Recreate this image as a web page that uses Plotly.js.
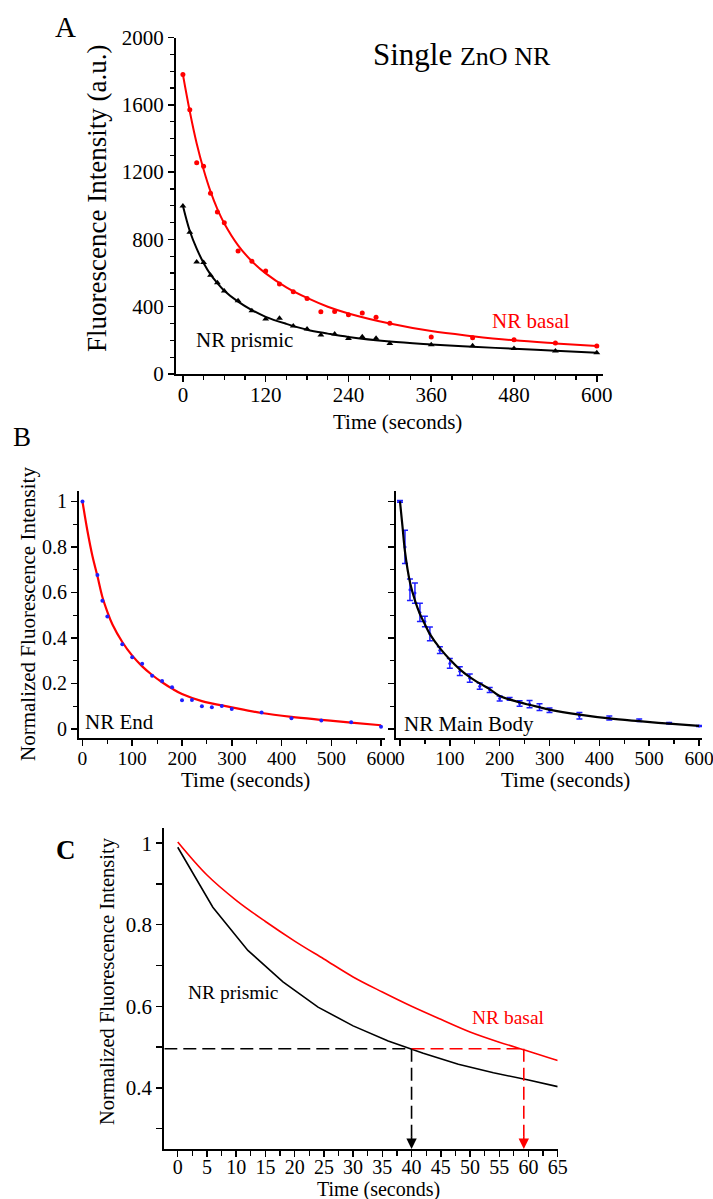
<!DOCTYPE html>
<html>
<head>
<meta charset="utf-8">
<script src="https://cdn.plot.ly/plotly-3.0.1.min.js"></script>
<style>html,body{margin:0;padding:0;background:#fff;}#chart{width:713px;height:1199px;}</style>
</head>
<body>
<div id="chart"></div>
<script>
// ---------- Panel A data (raw intensity) ----------
const A_t = [0,10,20,30,40,50,60,80,100,120,140,160,180,200,220,240,260,280,300,360,420,480,540,600];
const A_basal = [1780,1570,1255,1235,1075,963,899,731,670,612,535,489,448,370,372,352,362,337,301,220,216,204,184,166];
const A_prismic = [998,842,665,662,587,543,493,436,376,327,331,285,267,232,238,211,222,212,182,174,168,152,137,127];
const A_fit_t = [0,10,20,30,40,50,60,80,100,120,150,180,210,240,300,360,420,480,540,600];
const A_fit_basal = [1780,1560,1370,1215,1085,980,895,765,670,598,515,452,400,360,300,255,225,200,182,166];
const A_fit_prismic = [1000,850,745,660,592,540,495,430,380,340,298,263,240,220,193,176,162,150,138,127];

// ---------- Panel B data (normalized) ----------
const B_end_t = [0,30,40,50,80,100,120,140,160,180,200,220,240,260,280,300,360,420,480,540,600];
const B_end = [1.0,0.677,0.563,0.494,0.372,0.315,0.287,0.234,0.211,0.183,0.126,0.127,0.100,0.095,0.101,0.088,0.072,0.047,0.037,0.029,0.010];
const B_fit_end_t = [0,10,20,30,40,50,60,80,100,120,140,160,180,200,240,300,360,420,480,540,600];
const B_fit_end = [1.0,0.87,0.76,0.672,0.58,0.515,0.46,0.382,0.322,0.275,0.237,0.205,0.177,0.153,0.122,0.095,0.07,0.053,0.04,0.028,0.016];

const B_body_t = [0,10,20,30,40,50,60,80,100,120,140,160,180,200,220,240,260,280,300,360,420,480,540,600];
const B_body = [1.0,0.80,0.612,0.597,0.512,0.472,0.418,0.346,0.288,0.254,0.223,0.188,0.171,0.134,0.132,0.112,0.109,0.096,0.082,0.058,0.048,0.038,0.025,0.013];
const B_body_err = [0.004,0.073,0.047,0.045,0.04,0.023,0.03,0.015,0.021,0.019,0.018,0.014,0.011,0.011,0.006,0.012,0.016,0.015,0.01,0.014,0.009,0.005,0.003,0.002];
const B_fit_body_t = [0,5,10,20,30,40,50,60,80,100,120,140,160,180,200,240,280,300,360,420,480,540,600];
const B_fit_body = [1.0,0.89,0.78,0.645,0.565,0.505,0.46,0.417,0.355,0.305,0.262,0.228,0.2,0.175,0.145,0.117,0.095,0.085,0.063,0.046,0.034,0.023,0.013];

// ---------- Panel C data (first 65 s) ----------
const C_t_prismic = [0,6,12,18,24,30,36,42,48,54,60,65];
const C_prismic = [0.99,0.843,0.737,0.66,0.598,0.552,0.515,0.485,0.458,0.437,0.419,0.403];
const C_t_basal = [0,5,10,15,20,25,30,35,40,45,50,55,60,65];
const C_basal = [1.003,0.922,0.86,0.808,0.76,0.716,0.672,0.635,0.600,0.568,0.537,0.512,0.49,0.467];
const C_half_level = 0.496;
const C_half_t = [40, 59.2];   // prismic, basal half-times
const C_ymin = 0.25;

// ---------- layout helpers ----------
const W = 713, H = 1199;
const px = v => v / W;
const py = v => 1 - v / H;
const FONT = 'Liberation Serif, Times New Roman, serif';
const RED = '#ff0000', BLUE = '#1f1fff';

function axisBase(extra) {
  return Object.assign({
    showline: true, linecolor: '#000', linewidth: 2, mirror: false,
    showgrid: false, zeroline: false, ticks: 'outside', ticklen: 6, tickwidth: 1.5,
    tickcolor: '#000', automargin: false,
    tickfont: {family: FONT, size: 20, color: '#000'}
  }, extra);
}
const minorTicks = (d, len) => ({dtick: d, ticklen: len, tickcolor: '#000', ticks: 'outside', tickwidth: 1.2});

const traces = [
  // Panel A
  {x: A_fit_t, y: A_fit_basal, mode: 'lines', line: {color: RED, width: 2, shape: 'spline'}, xaxis: 'x', yaxis: 'y'},
  {x: A_fit_t, y: A_fit_prismic, mode: 'lines', line: {color: '#000', width: 2, shape: 'spline'}, xaxis: 'x', yaxis: 'y'},
  {x: A_t, y: A_basal, mode: 'markers', marker: {color: RED, size: 5, symbol: 'circle'}, xaxis: 'x', yaxis: 'y'},
  {x: A_t, y: A_prismic, mode: 'markers', marker: {color: '#000', size: 6, symbol: 'triangle-up'}, xaxis: 'x', yaxis: 'y'},
  // Panel B left
  {x: B_fit_end_t, y: B_fit_end, mode: 'lines', line: {color: RED, width: 2.2, shape: 'spline'}, xaxis: 'x2', yaxis: 'y2'},
  {x: B_end_t, y: B_end, mode: 'markers', marker: {color: BLUE, size: 4}, xaxis: 'x2', yaxis: 'y2'},
  // Panel B right
  {x: B_body_t, y: B_body, mode: 'markers', marker: {color: BLUE, size: 3},
   error_y: {type: 'data', array: B_body_err, visible: true, color: BLUE, thickness: 1.5, width: 3},
   xaxis: 'x3', yaxis: 'y3'},
  {x: B_fit_body_t, y: B_fit_body, mode: 'lines', line: {color: '#000', width: 2.2, shape: 'spline'}, xaxis: 'x3', yaxis: 'y3'},
  // Panel C
  {x: C_t_basal, y: C_basal, mode: 'lines', line: {color: RED, width: 1.6, shape: 'spline'}, xaxis: 'x4', yaxis: 'y4'},
  {x: C_t_prismic, y: C_prismic, mode: 'lines', line: {color: '#000', width: 1.6}, xaxis: 'x4', yaxis: 'y4'},
  // half-life guide lines
  {x: [-2.3, C_half_t[0]], y: [C_half_level, C_half_level], mode: 'lines', line: {color: '#000', width: 1.6, dash: '13px,6px'}, xaxis: 'x4', yaxis: 'y4'},
  {x: [C_half_t[0], C_half_t[1]], y: [C_half_level, C_half_level], mode: 'lines', line: {color: RED, width: 1.6, dash: '13px,6px'}, xaxis: 'x4', yaxis: 'y4'},
  {x: [C_half_t[0], C_half_t[0]], y: [C_half_level, C_ymin + 0.03], mode: 'lines', line: {color: '#000', width: 1.6, dash: '13px,6px'}, xaxis: 'x4', yaxis: 'y4'},
  {x: [C_half_t[1], C_half_t[1]], y: [C_half_level, C_ymin + 0.03], mode: 'lines', line: {color: RED, width: 1.6, dash: '13px,6px'}, xaxis: 'x4', yaxis: 'y4'}
];

const layout = {
  width: W, height: H, showlegend: false,
  paper_bgcolor: '#fff', plot_bgcolor: '#fff',
  margin: {l: 0, r: 0, t: 0, b: 0},
  font: {family: FONT, color: '#000'},
  // Panel A
  xaxis: axisBase({domain: [px(176), px(603)], range: [-10, 609], dtick: 120, tick0: 0,
    minor: minorTicks(30, 4), ticklabelstandoff: -5,
    tickfont: {family: FONT, size: 21, color: '#000'}, anchor: 'y'}),
  yaxis: axisBase({domain: [py(374), py(37.5)], range: [0, 2000], dtick: 400, tick0: 0,
    minor: minorTicks(100, 4),
    tickfont: {family: FONT, size: 21, color: '#000'}, anchor: 'x'}),
  // Panel B left
  xaxis2: axisBase({domain: [px(79), px(385)], range: [-7, 608], dtick: 100, tick0: 0,
    minor: minorTicks(50, 4), ticklabelstandoff: -4, anchor: 'y2',
    tickfont: {family: FONT, size: 19.5, color: '#000'}}),
  yaxis2: axisBase({domain: [py(738), py(491)], range: [-0.04, 1.046], dtick: 0.2, tick0: 0,
    minor: minorTicks(0.1, 4), anchor: 'x2'}),
  // Panel B right
  xaxis3: axisBase({domain: [px(395.7), px(702)], range: [-8.6, 606], dtick: 100, tick0: 0,
    minor: minorTicks(50, 4), ticklabelstandoff: -4, ticklabeloverflow: 'allow', anchor: 'y3',
    tickfont: {family: FONT, size: 19.5, color: '#000'}}),
  yaxis3: axisBase({domain: [py(738), py(491)], range: [-0.04, 1.046], dtick: 0.2, tick0: 0, showticklabels: false,
    minor: minorTicks(0.1, 4), anchor: 'x3'}),
  // Panel C
  xaxis4: axisBase({domain: [px(164.3), px(557.7)], range: [-2.3, 65], dtick: 5, tick0: 0,
    minor: minorTicks(2.5, 5), ticklabelstandoff: -7,
    tickfont: {family: FONT, size: 20, color: '#000'}, anchor: 'y4'}),
  yaxis4: axisBase({domain: [py(1149), py(827.7)], range: [C_ymin, 1.038], dtick: 0.2, tick0: 0,
    minor: minorTicks(0.1, 6),
    tickfont: {family: FONT, size: 21, color: '#000'}, anchor: 'x4'}),
  annotations: [
    // panel letters
    {text: 'A', x: px(65), y: py(27), xref: 'paper', yref: 'paper', showarrow: false, font: {size: 29}, xanchor: 'center', yanchor: 'middle'},
    {text: 'B', x: px(22), y: py(437), xref: 'paper', yref: 'paper', showarrow: false, font: {size: 27}, xanchor: 'center', yanchor: 'middle'},
    {text: '<b>C</b>', x: px(66), y: py(850), xref: 'paper', yref: 'paper', showarrow: false, font: {size: 27}, xanchor: 'center', yanchor: 'middle'},
    // Panel A texts
    {text: 'Single <span style="font-size:26px">ZnO NR</span>', x: px(371), y: py(55), xref: 'paper', yref: 'paper', showarrow: false, font: {size: 31}, xanchor: 'left', yanchor: 'middle'},
    {text: 'Fluorescence Intensity (a.u.)', x: px(97), y: py(199), xref: 'paper', yref: 'paper', showarrow: false, textangle: -90, font: {size: 27}, xanchor: 'center', yanchor: 'middle'},
    {text: 'Time (seconds)', x: px(397), y: py(422), xref: 'paper', yref: 'paper', showarrow: false, font: {size: 21}, xanchor: 'center', yanchor: 'middle'},
    {text: 'NR prismic', x: 90, y: 202, xref: 'x', yref: 'y', showarrow: false, font: {size: 21, color: '#000'}},
    {text: 'NR basal', x: 504, y: 316, xref: 'x', yref: 'y', showarrow: false, font: {size: 21, color: RED}},
    // Panel B texts
    {text: 'Normalized Fluorescence Intensity', x: px(28), y: py(614), xref: 'paper', yref: 'paper', showarrow: false, textangle: -90, font: {size: 21}, xanchor: 'center', yanchor: 'middle'},
    {text: 'Time (seconds)', x: px(245), y: py(780), xref: 'paper', yref: 'paper', showarrow: false, font: {size: 21}, xanchor: 'center', yanchor: 'middle'},
    {text: 'Time (seconds)', x: px(565), y: py(780), xref: 'paper', yref: 'paper', showarrow: false, font: {size: 21}, xanchor: 'center', yanchor: 'middle'},
    {text: 'NR End', x: 0.5, y: 0.031, xref: 'x2', yref: 'y2', showarrow: false, font: {size: 21}, xanchor: 'left', yanchor: 'middle'},
    {text: 'NR Main Body', x: 3.4, y: 0.02, xref: 'x3', yref: 'y3', showarrow: false, font: {size: 21}, xanchor: 'left', yanchor: 'middle'},
    // Panel C texts
    {text: 'Normalized Fluorescence Intensity', x: px(107), y: py(981), xref: 'paper', yref: 'paper', showarrow: false, textangle: -90, font: {size: 20.5}, xanchor: 'center', yanchor: 'middle'},
    {text: 'Time (seconds)', x: px(379), y: py(1189), xref: 'paper', yref: 'paper', showarrow: false, font: {size: 20}, xanchor: 'center', yanchor: 'middle'},
    {text: 'NR prismic', x: 9.5, y: 0.633, xref: 'x4', yref: 'y4', showarrow: false, font: {size: 19.5, color: '#000'}},
    {text: 'NR basal', x: 56.5, y: 0.572, xref: 'x4', yref: 'y4', showarrow: false, font: {size: 19.5, color: RED}},
    // arrowheads at the time axis
    {text: '', x: C_half_t[0], y: C_ymin, xref: 'x4', yref: 'y4', showarrow: true, arrowhead: 2, arrowsize: 1.3, arrowwidth: 1.6, arrowcolor: '#000', ax: 0, ay: -14, standoff: 0},
    {text: '', x: C_half_t[1], y: C_ymin, xref: 'x4', yref: 'y4', showarrow: true, arrowhead: 2, arrowsize: 1.3, arrowwidth: 1.6, arrowcolor: RED, ax: 0, ay: -14, standoff: 0}
  ]
};

Plotly.newPlot('chart', traces, layout, {staticPlot: true, displayModeBar: false});
</script>
</body>
</html>
